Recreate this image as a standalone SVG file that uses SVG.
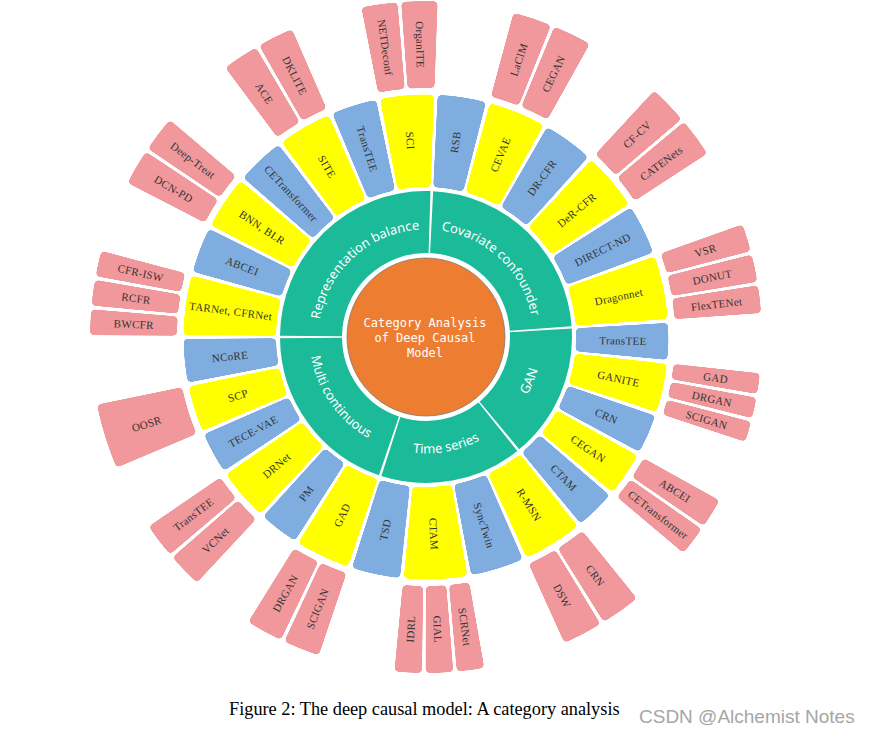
<svg xmlns="http://www.w3.org/2000/svg" width="869" height="734" viewBox="0 0 869 734">
<defs>
<style>
.y{fill:none;stroke:#FFFF00;stroke-width:92.5}
.b{fill:none;stroke:#7FADE0;stroke-width:92.5}
.p{fill:none;stroke:#F0989B;stroke-width:87}
.g{fill:none;stroke:#1BBA99;stroke-width:62}
.t{font-family:"Liberation Serif",serif;font-size:11px;letter-spacing:0.3px;fill:#333;text-anchor:middle;dominant-baseline:central}
.gt{font-family:"Noto Sans","Open Sans",sans-serif;font-size:13px;fill:#fff;text-anchor:middle}
.ct{font-family:"DejaVu Sans Mono",monospace;font-size:12px;fill:#fff;text-anchor:middle}
</style>
<filter id="rc" filterUnits="userSpaceOnUse" x="0" y="0" width="869" height="734" color-interpolation-filters="sRGB">
<feGaussianBlur in="SourceGraphic" stdDeviation="2"/>
<feComponentTransfer><feFuncA type="linear" slope="12" intercept="-5.5"/></feComponentTransfer>
</filter>
<path id="cw" d="M426,229.5 A107.5,107.5 0 1 1 426,444.5 A107.5,107.5 0 1 1 426,229.5"/>
<path id="ccw" d="M426,220.5 A116.5,116.5 0 1 0 426,453.5 A116.5,116.5 0 1 0 426,220.5"/>
</defs>
<rect width="869" height="734" fill="#fff"/>

<g id="root">
<circle cx="426" cy="337" r="79" fill="#ED7D31" stroke="#7a7a7a" stroke-width="0.8"/>
<text class="ct" x="425" y="327">Category Analysis</text>
<text class="ct" x="425" y="342">of Deep Causal</text>
<text class="ct" x="425" y="357">Model</text>
</g>

<g id="cat-representation-balance"><circle class="g" cx="426" cy="337" r="115" pathLength="360" stroke-dasharray="91.3 360" transform="rotate(180.5 426 337)"/><text class="gt"><textPath href="#cw" startOffset="88.3%">Representation  balance</textPath></text></g>
<g id="cat-covariate-confounder"><circle class="g" cx="426" cy="337" r="115" pathLength="360" stroke-dasharray="82.9 360" transform="rotate(-87.2 426 337)"/><text class="gt"><textPath href="#cw" startOffset="12.08%">Covariate confounder</textPath></text></g>
<g id="cat-gan"><circle class="g" cx="426" cy="337" r="115" pathLength="360" stroke-dasharray="53.6 360" transform="rotate(-3.3 426 337)"/><text class="gt"><textPath href="#ccw" startOffset="68.61%">GAN</textPath></text></g>
<g id="cat-time-series"><circle class="g" cx="426" cy="337" r="115" pathLength="360" stroke-dasharray="56.5 360" transform="rotate(51.3 426 337)"/><text class="gt"><textPath href="#ccw" startOffset="52.92%">Time series</textPath></text></g>
<g id="cat-multi-continuous"><circle class="g" cx="426" cy="337" r="115" pathLength="360" stroke-dasharray="70.7 360" transform="rotate(108.8 426 337)"/><text class="gt"><textPath href="#ccw" startOffset="34.72%">Multi continuous</textPath></text></g>

<g id="m-sci"><circle class="y" filter="url(#rc)" cx="426" cy="337" r="196.25" pathLength="360" stroke-dasharray="12.8 360" transform="rotate(259.05 426 337)"/><text class="t" x="229" y="337" transform="rotate(85.45 426 337)">SCI</text></g>
<g id="m-rsb"><circle class="b" filter="url(#rc)" cx="426" cy="337" r="196.25" pathLength="360" stroke-dasharray="11.6 360" transform="rotate(-87.25 426 337)"/><text class="t" x="623" y="337" transform="rotate(-81.45 426 337)">RSB</text></g>
<g id="m-cevae"><circle class="y" filter="url(#rc)" cx="426" cy="337" r="196.25" pathLength="360" stroke-dasharray="13.8 360" transform="rotate(-74.75 426 337)"/><text class="t" x="623" y="337" transform="rotate(-67.85 426 337)">CEVAE</text></g>
<g id="m-dr-cfr"><circle class="b" filter="url(#rc)" cx="426" cy="337" r="196.25" pathLength="360" stroke-dasharray="12.1 360" transform="rotate(-60.05 426 337)"/><text class="t" x="623" y="337" transform="rotate(-54 426 337)">DR-CFR</text></g>
<g id="m-der-cfr"><circle class="y" filter="url(#rc)" cx="426" cy="337" r="196.25" pathLength="360" stroke-dasharray="13.8 360" transform="rotate(-47.05 426 337)"/><text class="t" x="623" y="337" transform="rotate(-40.15 426 337)">DeR-CFR</text></g>
<g id="m-direct-nd"><circle class="b" filter="url(#rc)" cx="426" cy="337" r="196.25" pathLength="360" stroke-dasharray="12 360" transform="rotate(-32.35 426 337)"/><text class="t" x="623" y="337" transform="rotate(-26.35 426 337)">DIRECT-ND</text></g>
<g id="m-dragonnet"><circle class="y" filter="url(#rc)" cx="426" cy="337" r="196.25" pathLength="360" stroke-dasharray="15.2 360" transform="rotate(-19.45 426 337)"/><text class="t" x="623" y="337" transform="rotate(-11.85 426 337)">Dragonnet</text></g>
<g id="m-transtee-gan"><circle class="b" filter="url(#rc)" cx="426" cy="337" r="196.25" pathLength="360" stroke-dasharray="8.8 360" transform="rotate(-3.35 426 337)"/><text class="t" x="623" y="337" transform="rotate(1.05 426 337)">TransTEE</text></g>
<g id="m-ganite"><circle class="y" filter="url(#rc)" cx="426" cy="337" r="196.25" pathLength="360" stroke-dasharray="11.7 360" transform="rotate(6.35 426 337)"/><text class="t" x="623" y="337" transform="rotate(12.2 426 337)">GANITE</text></g>
<g id="m-crn"><circle class="b" filter="url(#rc)" cx="426" cy="337" r="196.25" pathLength="360" stroke-dasharray="9.4 360" transform="rotate(18.95 426 337)"/><text class="t" x="623" y="337" transform="rotate(23.65 426 337)">CRN</text></g>
<g id="m-cegan"><circle class="y" filter="url(#rc)" cx="426" cy="337" r="196.25" pathLength="360" stroke-dasharray="10.6 360" transform="rotate(29.25 426 337)"/><text class="t" x="623" y="337" transform="rotate(34.55 426 337)">CEGAN</text></g>
<g id="m-ctam-gan"><circle class="b" filter="url(#rc)" cx="426" cy="337" r="196.25" pathLength="360" stroke-dasharray="9.6 360" transform="rotate(40.75 426 337)"/><text class="t" x="623" y="337" transform="rotate(45.55 426 337)">CTAM</text></g>
<g id="m-r-msn"><circle class="y" filter="url(#rc)" cx="426" cy="337" r="196.25" pathLength="360" stroke-dasharray="14.3 360" transform="rotate(51.25 426 337)"/><text class="t" x="623" y="337" transform="rotate(58.4 426 337)">R-MSN</text></g>
<g id="m-synctwin"><circle class="b" filter="url(#rc)" cx="426" cy="337" r="196.25" pathLength="360" stroke-dasharray="12.8 360" transform="rotate(66.45 426 337)"/><text class="t" x="623" y="337" transform="rotate(72.85 426 337)">SyncTwin</text></g>
<g id="m-ctam-ts"><circle class="y" filter="url(#rc)" cx="426" cy="337" r="196.25" pathLength="360" stroke-dasharray="15.1 360" transform="rotate(80.15 426 337)"/><text class="t" x="623" y="337" transform="rotate(87.7 426 337)">CTAM</text></g>
<g id="m-tsd"><circle class="b" filter="url(#rc)" cx="426" cy="337" r="196.25" pathLength="360" stroke-dasharray="11.7 360" transform="rotate(96.15 426 337)"/><text class="t" x="229" y="337" transform="rotate(-78 426 337)">TSD</text></g>
<g id="m-gad"><circle class="y" filter="url(#rc)" cx="426" cy="337" r="196.25" pathLength="360" stroke-dasharray="13.1 360" transform="rotate(108.75 426 337)"/><text class="t" x="229" y="337" transform="rotate(-64.7 426 337)">GAD</text></g>
<g id="m-pm"><circle class="b" filter="url(#rc)" cx="426" cy="337" r="196.25" pathLength="360" stroke-dasharray="9.5 360" transform="rotate(122.75 426 337)"/><text class="t" x="229" y="337" transform="rotate(-52.5 426 337)">PM</text></g>
<g id="m-drnet"><circle class="y" filter="url(#rc)" cx="426" cy="337" r="196.25" pathLength="360" stroke-dasharray="12.4 360" transform="rotate(133.15 426 337)"/><text class="t" x="229" y="337" transform="rotate(-40.65 426 337)">DRNet</text></g>
<g id="m-tece-vae"><circle class="b" filter="url(#rc)" cx="426" cy="337" r="196.25" pathLength="360" stroke-dasharray="9.9 360" transform="rotate(146.45 426 337)"/><text class="t" x="229" y="337" transform="rotate(-28.6 426 337)">TECE-VAE</text></g>
<g id="m-scp"><circle class="y" filter="url(#rc)" cx="426" cy="337" r="196.25" pathLength="360" stroke-dasharray="11 360" transform="rotate(157.25 426 337)"/><text class="t" x="229" y="337" transform="rotate(-17.25 426 337)">SCP</text></g>
<g id="m-ncore"><circle class="b" filter="url(#rc)" cx="426" cy="337" r="196.25" pathLength="360" stroke-dasharray="10.4 360" transform="rotate(169.15 426 337)"/><text class="t" x="229" y="337" transform="rotate(-5.65 426 337)">NCoRE</text></g>
<g id="m-tarnet"><circle class="y" filter="url(#rc)" cx="426" cy="337" r="196.25" pathLength="360" stroke-dasharray="14.3 360" transform="rotate(180.45 426 337)"/><text class="t" x="229" y="337" transform="rotate(7.6 426 337)">TARNet, CFRNet</text></g>
<g id="m-abcei"><circle class="b" filter="url(#rc)" cx="426" cy="337" r="196.25" pathLength="360" stroke-dasharray="10.9 360" transform="rotate(195.65 426 337)"/><text class="t" x="229" y="337" transform="rotate(21.1 426 337)">ABCEI</text></g>
<g id="m-bnn"><circle class="y" filter="url(#rc)" cx="426" cy="337" r="196.25" pathLength="360" stroke-dasharray="12.7 360" transform="rotate(207.45 426 337)"/><text class="t" x="229" y="337" transform="rotate(33.8 426 337)">BNN, BLR</text></g>
<g id="m-cetransformer"><circle class="b" filter="url(#rc)" cx="426" cy="337" r="196.25" pathLength="360" stroke-dasharray="11.5 360" transform="rotate(221.05 426 337)"/><text class="t" x="229" y="337" transform="rotate(46.8 426 337)">CETransformer</text></g>
<g id="m-site"><circle class="y" filter="url(#rc)" cx="426" cy="337" r="196.25" pathLength="360" stroke-dasharray="12.9 360" transform="rotate(233.45 426 337)"/><text class="t" x="229" y="337" transform="rotate(59.9 426 337)">SITE</text></g>
<g id="m-transtee-rb"><circle class="b" filter="url(#rc)" cx="426" cy="337" r="196.25" pathLength="360" stroke-dasharray="10.9 360" transform="rotate(247.25 426 337)"/><text class="t" x="229" y="337" transform="rotate(72.7 426 337)">TransTEE</text></g>

<g id="p-bwcfr"><circle class="p" filter="url(#rc)" cx="426" cy="337" r="292.5" pathLength="360" stroke-dasharray="4.47 360" transform="rotate(180.3 426 337)"/><text class="t" x="133.5" y="337" transform="rotate(2.53 426 337)">BWCFR</text></g>
<g id="p-rcfr"><circle class="p" filter="url(#rc)" cx="426" cy="337" r="292.5" pathLength="360" stroke-dasharray="4.47 360" transform="rotate(185.37 426 337)"/><text class="t" x="133.5" y="337" transform="rotate(7.6 426 337)">RCFR</text></g>
<g id="p-cfr-isw"><circle class="p" filter="url(#rc)" cx="426" cy="337" r="292.5" pathLength="360" stroke-dasharray="4.47 360" transform="rotate(190.43 426 337)"/><text class="t" x="133.5" y="337" transform="rotate(12.67 426 337)">CFR-ISW</text></g>
<g id="p-dcn-pd"><circle class="p" filter="url(#rc)" cx="426" cy="337" r="292.5" pathLength="360" stroke-dasharray="6.2 360" transform="rotate(207.3 426 337)"/><text class="t" x="133.5" y="337" transform="rotate(30.4 426 337)">DCN-PD</text></g>
<g id="p-deep-treat"><circle class="p" filter="url(#rc)" cx="426" cy="337" r="292.5" pathLength="360" stroke-dasharray="6.2 360" transform="rotate(214.1 426 337)"/><text class="t" x="133.5" y="337" transform="rotate(37.2 426 337)">Deep-Treat</text></g>
<g id="p-ace"><circle class="p" filter="url(#rc)" cx="426" cy="337" r="292.5" pathLength="360" stroke-dasharray="6.3 360" transform="rotate(233.3 426 337)"/><text class="t" x="133.5" y="337" transform="rotate(56.45 426 337)">ACE</text></g>
<g id="p-dklite"><circle class="p" filter="url(#rc)" cx="426" cy="337" r="292.5" pathLength="360" stroke-dasharray="6.3 360" transform="rotate(240.2 426 337)"/><text class="t" x="133.5" y="337" transform="rotate(63.35 426 337)">DKLITE</text></g>
<g id="p-netdeconf"><circle class="p" filter="url(#rc)" cx="426" cy="337" r="292.5" pathLength="360" stroke-dasharray="6.25 360" transform="rotate(258.9 426 337)"/><text class="t" x="133.5" y="337" transform="rotate(82.03 426 337)">NETDeconf</text></g>
<g id="p-organite"><circle class="p" filter="url(#rc)" cx="426" cy="337" r="292.5" pathLength="360" stroke-dasharray="6.25 360" transform="rotate(265.75 426 337)"/><text class="t" x="133.5" y="337" transform="rotate(88.88 426 337)">OrganITE</text></g>
<g id="p-lacim"><circle class="p" filter="url(#rc)" cx="426" cy="337" r="292.5" pathLength="360" stroke-dasharray="6.75 360" transform="rotate(-74.9 426 337)"/><text class="t" x="718.5" y="337" transform="rotate(-71.53 426 337)">LaCIM</text></g>
<g id="p-cegan"><circle class="p" filter="url(#rc)" cx="426" cy="337" r="292.5" pathLength="360" stroke-dasharray="6.75 360" transform="rotate(-67.55 426 337)"/><text class="t" x="718.5" y="337" transform="rotate(-64.17 426 337)">CEGAN</text></g>
<g id="p-cf-cv"><circle class="p" filter="url(#rc)" cx="426" cy="337" r="292.5" pathLength="360" stroke-dasharray="6.75 360" transform="rotate(-47.2 426 337)"/><text class="t" x="718.5" y="337" transform="rotate(-43.82 426 337)">CF-CV</text></g>
<g id="p-catenets"><circle class="p" filter="url(#rc)" cx="426" cy="337" r="292.5" pathLength="360" stroke-dasharray="6.75 360" transform="rotate(-39.85 426 337)"/><text class="t" x="718.5" y="337" transform="rotate(-36.47 426 337)">CATENets</text></g>
<g id="p-vsr"><circle class="p" filter="url(#rc)" cx="426" cy="337" r="292.5" pathLength="360" stroke-dasharray="4.77 360" transform="rotate(-19.6 426 337)"/><text class="t" x="718.5" y="337" transform="rotate(-17.22 426 337)">VSR</text></g>
<g id="p-donut"><circle class="p" filter="url(#rc)" cx="426" cy="337" r="292.5" pathLength="360" stroke-dasharray="4.77 360" transform="rotate(-14.23 426 337)"/><text class="t" x="718.5" y="337" transform="rotate(-11.85 426 337)">DONUT</text></g>
<g id="p-flextenet"><circle class="p" filter="url(#rc)" cx="426" cy="337" r="292.5" pathLength="360" stroke-dasharray="4.77 360" transform="rotate(-8.87 426 337)"/><text class="t" x="718.5" y="337" transform="rotate(-6.48 426 337)">FlexTENet</text></g>
<g id="p-gad"><circle class="p" filter="url(#rc)" cx="426" cy="337" r="292.5" pathLength="360" stroke-dasharray="3.6 360" transform="rotate(6.2 426 337)"/><text class="t" x="718.5" y="337" transform="rotate(8 426 337)">GAD</text></g>
<g id="p-drgan-g"><circle class="p" filter="url(#rc)" cx="426" cy="337" r="292.5" pathLength="360" stroke-dasharray="3.6 360" transform="rotate(10.4 426 337)"/><text class="t" x="718.5" y="337" transform="rotate(12.2 426 337)">DRGAN</text></g>
<g id="p-scigan-g"><circle class="p" filter="url(#rc)" cx="426" cy="337" r="292.5" pathLength="360" stroke-dasharray="3.6 360" transform="rotate(14.6 426 337)"/><text class="t" x="718.5" y="337" transform="rotate(16.4 426 337)">SCIGAN</text></g>
<g id="p-abcei"><circle class="p" filter="url(#rc)" cx="426" cy="337" r="292.5" pathLength="360" stroke-dasharray="5.15 360" transform="rotate(29.1 426 337)"/><text class="t" x="718.5" y="337" transform="rotate(31.68 426 337)">ABCEI</text></g>
<g id="p-cetransformer"><circle class="p" filter="url(#rc)" cx="426" cy="337" r="292.5" pathLength="360" stroke-dasharray="5.15 360" transform="rotate(34.85 426 337)"/><text class="t" x="718.5" y="337" transform="rotate(37.43 426 337)">CETransformer</text></g>
<g id="p-crn"><circle class="p" filter="url(#rc)" cx="426" cy="337" r="292.5" pathLength="360" stroke-dasharray="7 360" transform="rotate(51.1 426 337)"/><text class="t" x="718.5" y="337" transform="rotate(54.6 426 337)">CRN</text></g>
<g id="p-dsw"><circle class="p" filter="url(#rc)" cx="426" cy="337" r="292.5" pathLength="360" stroke-dasharray="7 360" transform="rotate(58.7 426 337)"/><text class="t" x="718.5" y="337" transform="rotate(62.2 426 337)">DSW</text></g>
<g id="p-scrnet"><circle class="p" filter="url(#rc)" cx="426" cy="337" r="292.5" pathLength="360" stroke-dasharray="4.73 360" transform="rotate(80 426 337)"/><text class="t" x="718.5" y="337" transform="rotate(82.37 426 337)">SCRNet</text></g>
<g id="p-gial"><circle class="p" filter="url(#rc)" cx="426" cy="337" r="292.5" pathLength="360" stroke-dasharray="4.73 360" transform="rotate(85.33 426 337)"/><text class="t" x="718.5" y="337" transform="rotate(87.7 426 337)">GIAL</text></g>
<g id="p-idrl"><circle class="p" filter="url(#rc)" cx="426" cy="337" r="292.5" pathLength="360" stroke-dasharray="4.73 360" transform="rotate(90.67 426 337)"/><text class="t" x="133.5" y="337" transform="rotate(-86.97 426 337)">IDRL</text></g>
<g id="p-scigan-m"><circle class="p" filter="url(#rc)" cx="426" cy="337" r="292.5" pathLength="360" stroke-dasharray="6.4 360" transform="rotate(108.6 426 337)"/><text class="t" x="133.5" y="337" transform="rotate(-68.2 426 337)">SCIGAN</text></g>
<g id="p-drgan-m"><circle class="p" filter="url(#rc)" cx="426" cy="337" r="292.5" pathLength="360" stroke-dasharray="6.4 360" transform="rotate(115.6 426 337)"/><text class="t" x="133.5" y="337" transform="rotate(-61.2 426 337)">DRGAN</text></g>
<g id="p-vcnet"><circle class="p" filter="url(#rc)" cx="426" cy="337" r="292.5" pathLength="360" stroke-dasharray="6.05 360" transform="rotate(133 426 337)"/><text class="t" x="133.5" y="337" transform="rotate(-43.97 426 337)">VCNet</text></g>
<g id="p-transtee"><circle class="p" filter="url(#rc)" cx="426" cy="337" r="292.5" pathLength="360" stroke-dasharray="6.05 360" transform="rotate(139.65 426 337)"/><text class="t" x="133.5" y="337" transform="rotate(-37.32 426 337)">TransTEE</text></g>
<g id="p-oosr"><circle class="p" filter="url(#rc)" cx="426" cy="337" r="292.5" pathLength="360" stroke-dasharray="11.3 360" transform="rotate(157.1 426 337)"/><text class="t" x="133.5" y="337" transform="rotate(-17.25 426 337)">OOSR</text></g>

<g id="connectors"></g>

<text x="229" y="715" font-family="Liberation Serif, serif" font-size="18.3" fill="#000">Figure 2: The deep causal model: A category analysis</text>
<text x="639" y="723" font-family="Liberation Sans, sans-serif" font-size="19" fill="#a6a6a6">CSDN @Alchemist Notes</text>
</svg>
